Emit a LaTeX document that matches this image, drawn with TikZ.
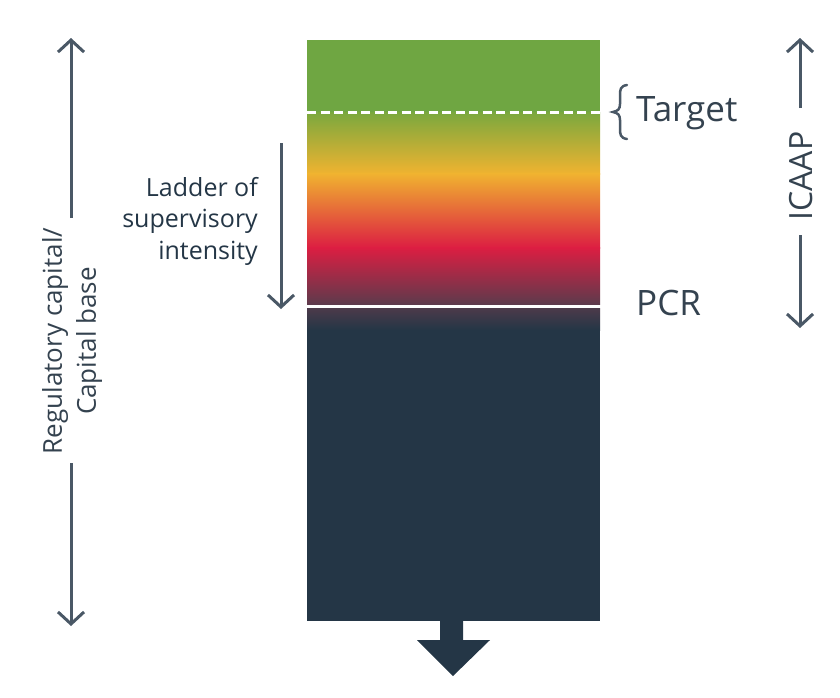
\documentclass[tikz,border=0pt]{standalone}
\usepackage{fontspec}
\setmainfont{Open Sans}
\usetikzlibrary{arrows.meta}
\definecolor{navy}{HTML}{243646}
\definecolor{arrowgray}{HTML}{4A5866}
\definecolor{lblgray}{HTML}{34424F}
\definecolor{gGreen}{HTML}{6FA642}
\definecolor{gGreenB}{HTML}{7AA83E}
\definecolor{gYellow}{HTML}{F0B330}
\definecolor{gRed}{HTML}{DC1E42}
\definecolor{gPurple}{HTML}{5E3A4C}
\definecolor{gPurpleB}{HTML}{4C3A4A}
\begin{document}
\begin{tikzpicture}[x=1pt,y=-1pt,
  dimarrow/.style={draw=arrowgray,line width=3pt,-{Straight Barb[length=12pt,width=26pt,line width=3pt]}},
  bigtext/.style={text=lblgray,font=\fontsize{35}{42}\selectfont,inner sep=0pt},
  midtext/.style={text=navy,font=\fontsize{25}{31.5}\selectfont,inner sep=0pt},
  rottext/.style={text=lblgray,font=\fontsize{26}{34}\selectfont,inner sep=0pt,rotate=90,align=center}]
\useasboundingbox (0,0) rectangle (840,697);
% bar
\fill[gGreen] (307,40) rectangle (600,112);
\shade[top color=gGreenB,bottom color=gYellow] (307,112) rectangle (600,174);
\shade[top color=gYellow,bottom color=gRed] (307,173.5) rectangle (600,248);
\shade[top color=gRed,bottom color=gPurple] (307,247.5) rectangle (600,304);
\shade[top color=gPurpleB,bottom color=navy] (307,308) rectangle (600,330);
\fill[navy] (307,329.5) rectangle (600,621);
\draw[white,line width=3pt,dash pattern=on 9pt off 4.5pt] (307,112) -- (600,112);
% bottom arrow
\fill[navy] (440,620) -- (463,620) -- (463,640) -- (490,640) -- (453,676) -- (417,640) -- (440,640) -- cycle;
% left dimension
\coordinate (L1) at (71,218);
\coordinate (L0) at (71,38);
\coordinate (L2) at (71,463);
\coordinate (L3) at (71,626);
\draw[dimarrow] (L1) -- (L0);
\draw[dimarrow] (L2) -- (L3);
\node[rottext] (reg) at (72,341) {Regulatory capital/\\Capital base};
% ICAAP
\coordinate (I1) at (800,108);
\coordinate (I0) at (800,38);
\coordinate (I2) at (800,235);
\coordinate (I3) at (800,328);
\draw[dimarrow] (I1) -- (I0);
\draw[dimarrow] (I2) -- (I3);
\node[bigtext,rotate=90,font=\fontsize{32}{40}\selectfont] (icaap) at (801,176) {ICAAP};
% ladder
\coordinate (D0) at (281,143);
\coordinate (D1) at (281,309);
\draw[dimarrow] (D0) -- (D1);
\node[midtext,align=right,anchor=east] (ladder) at (258,221) {Ladder of\\supervisory\\intensity};
% target
\draw[arrowgray,line width=2.5pt,line cap=round]
  (627,85) .. controls (620,86) and (620,90) .. (620,96) -- (620,104)
  .. controls (620,109) and (618,111) .. (613,112)
  .. controls (618,113) and (620,115) .. (620,120) -- (620,128)
  .. controls (620,134) and (620,138) .. (627,139);
\node[bigtext,anchor=west] (target) at (636,113) {Target};
\node[bigtext,anchor=west] (pcr) at (636,303) {PCR};
\end{tikzpicture}
\end{document}
